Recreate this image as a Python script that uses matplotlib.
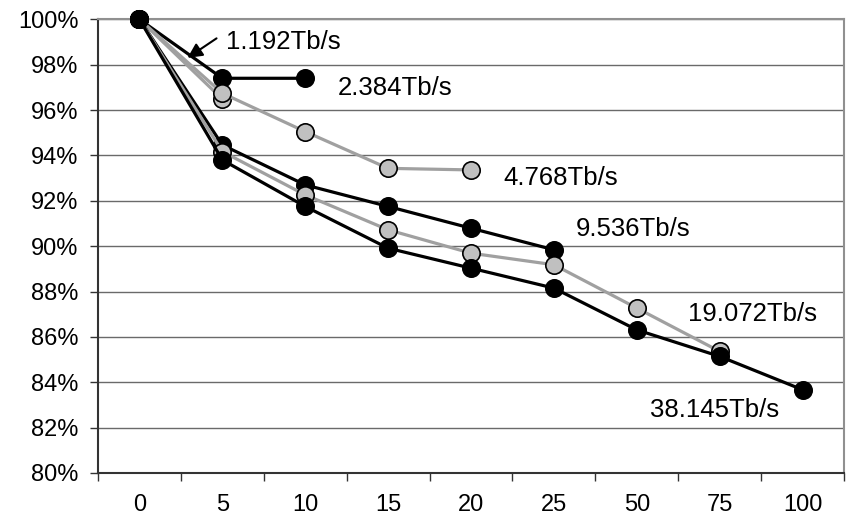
import matplotlib.pyplot as plt
import numpy as np
from matplotlib.ticker import FixedLocator, PercentFormatter

plt.rcParams['font.family'] = ['Liberation Sans', 'DejaVu Sans']

CATEGORIES = ['0', '5', '10', '15', '20', '25', '50', '75', '100']

LABELS = ['1.192Tb/s', '2.384Tb/s', '4.768Tb/s', '9.536Tb/s', '19.072Tb/s', '38.145Tb/s']
S_1192 = [100, 96.48]
S_2384 = [100, 97.40, 97.40]
S_4768 = [100, 96.74, 95.05, 93.43, 93.36]
S_9536 = [100, 94.46, 92.70, 91.75, 90.79, 89.84]
S_19072 = [100, 94.17, 92.26, 90.72, 89.69, 89.18, 87.27, 85.36]
S_38145 = [100, 93.80, 91.75, 89.91, 89.03, 88.15, 86.31, 85.14, 83.67]

SERIES = [S_1192, S_2384, S_4768, S_9536, S_19072, S_38145]

# label offsets from each series' last point, in pixels
LABEL_OFFSETS = [None, (33, -10), (32, -8), (22, 21), (-32, 37), (-153, -20)]

GRAY_LINE = '#a0a0a0'
GRAY_FACE = '#c0c0c0'

fig = plt.figure(figsize=(8.47, 5.19), dpi=100)
ax = fig.add_axes([98 / 847, 1 - 473 / 519, 746 / 847, (473 - 19.3) / 519])

for i, (vals, label) in enumerate(zip(SERIES, LABELS)):
    x = np.arange(len(vals))
    gray = i % 2 == 0
    ax.plot(x, vals, color=GRAY_LINE if gray else 'black', lw=2.3,
            marker='o', ms=12.5, mfc=GRAY_FACE if gray else 'black',
            mec='black', mew=1.2, clip_on=False, zorder=3 + i)
    off = LABEL_OFFSETS[i]
    if off is not None:
        ax.annotate(label, xy=(x[-1], vals[-1]), xytext=off,
                    textcoords='offset pixels', ha='left', va='center',
                    fontsize=18.5)

# first series label with arrow
ax.text(1.05, 99.01, LABELS[0], ha='left', va='center', fontsize=18.5)
ax.annotate('', xy=(0.58, 98.3), xytext=(0.93, 99.16),
            arrowprops=dict(arrowstyle='-|>', color='black', lw=1.5,
                            mutation_scale=22, shrinkA=0, shrinkB=0),
            zorder=20)

ax.set_xlim(-0.5, len(CATEGORIES) - 0.5)
ax.set_ylim(80, 100)

ax.set_xticks(np.arange(len(CATEGORIES)))
ax.set_xticklabels(CATEGORIES)
ax.xaxis.set_minor_locator(FixedLocator(np.arange(-0.5, len(CATEGORIES), 1)))
ax.tick_params(axis='x', which='major', length=0, pad=15, labelsize=17)
ax.tick_params(axis='x', which='minor', length=5.5, width=1, color='#333333')

ax.set_yticks(np.arange(80, 101, 2))
ax.yaxis.set_major_formatter(PercentFormatter(decimals=0))
ax.tick_params(axis='y', length=5.5, width=1, pad=8.5, labelsize=17, color='#333333')

ax.yaxis.grid(True, color='#6a6a6a', lw=1)
ax.set_axisbelow(True)

for side in ('left', 'bottom'):
    ax.spines[side].set_color('#333333')
    ax.spines[side].set_linewidth(1.5)
for side in ('top', 'right'):
    ax.spines[side].set_color('#909090')
    ax.spines[side].set_linewidth(1.5)

fig.savefig('out.png', dpi=100)
